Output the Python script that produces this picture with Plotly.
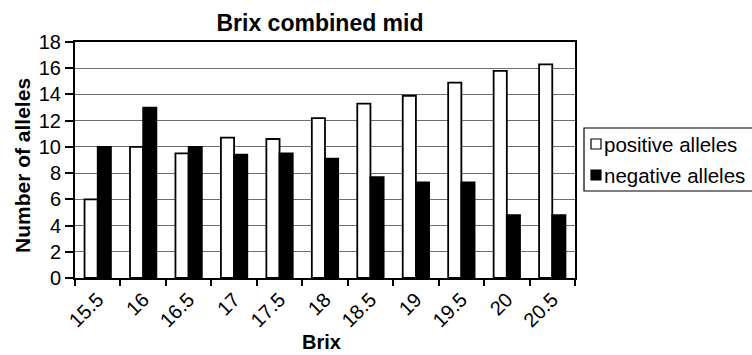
import plotly.graph_objects as go

# Brix classes and allele counts
brix = ["15.5", "16", "16.5", "17", "17.5", "18", "18.5", "19", "19.5", "20", "20.5"]
positive_alleles = [6.0, 10.0, 9.5, 10.7, 10.6, 12.2, 13.3, 13.9, 14.9, 15.8, 16.3]
negative_alleles = [10.0, 13.0, 10.0, 9.4, 9.5, 9.1, 7.7, 7.3, 7.3, 4.8, 4.8]

y_ticks = list(range(0, 19, 2))

FONT = "Liberation Sans, Arial, sans-serif"

# plot area in pixels (for placing the legend and titles)
L, R, T, B = 75, 575, 42, 278
W, H = 752, 355


def px_x(px):
    return (px - L) / (R - L)


def px_y(py):
    return (B - py) / (B - T)


fig = go.Figure()
fig.add_trace(go.Bar(
    x=brix, y=positive_alleles, name="positive alleles",
    marker=dict(color="white", line=dict(color="black", width=1.8)),
))
fig.add_trace(go.Bar(
    x=brix, y=negative_alleles, name="negative alleles",
    marker=dict(color="black", line=dict(color="black", width=1.8)),
))

# hand-built legend box
shapes = [
    dict(type="rect", xref="paper", yref="paper",
         x0=px_x(584), x1=px_x(790), y0=px_y(191), y1=px_y(128),
         line=dict(color="black", width=1.2), fillcolor="white", layer="above"),
    dict(type="rect", xref="paper", yref="paper",
         x0=px_x(591), x1=px_x(601), y0=px_y(149), y1=px_y(139),
         line=dict(color="black", width=1.2), fillcolor="white", layer="above"),
    dict(type="rect", xref="paper", yref="paper",
         x0=px_x(591), x1=px_x(601), y0=px_y(180), y1=px_y(170),
         line=dict(color="black", width=1.2), fillcolor="black", layer="above"),
]

annotations = [
    dict(text="positive alleles", xref="paper", yref="paper",
         x=px_x(602), y=px_y(144), xanchor="left", yanchor="middle",
         showarrow=False, font=dict(family=FONT, size=20.5, color="black")),
    dict(text="negative alleles", xref="paper", yref="paper",
         x=px_x(602), y=px_y(175), xanchor="left", yanchor="middle",
         showarrow=False, font=dict(family=FONT, size=20.5, color="black")),
    dict(text="<b>Brix</b>", xref="paper", yref="paper",
         x=px_x(321), y=px_y(342), xanchor="center", yanchor="middle",
         showarrow=False, font=dict(family=FONT, size=20, color="black")),
    dict(text="<b>Number of alleles</b>", xref="paper", yref="paper",
         x=px_x(22), y=px_y(166), xanchor="center", yanchor="middle",
         textangle=-90, showarrow=False,
         font=dict(family=FONT, size=21, color="black")),
]

fig.update_layout(
    width=W, height=H,
    margin=dict(l=L, r=W - R, t=T, b=H - B, autoexpand=False),
    paper_bgcolor="white", plot_bgcolor="white",
    showlegend=False,
    barmode="group", bargap=0.42, bargroupgap=0,
    font=dict(family=FONT, size=20, color="black"),
    title=dict(text="<b>Brix combined mid</b>", x=320 / W, xanchor="center",
               y=1 - 23 / H, yanchor="middle",
               font=dict(family=FONT, size=23, color="black")),
    shapes=shapes,
    annotations=annotations,
)

fig.update_xaxes(
    type="category", tickson="boundaries", ticks="outside", ticklen=6,
    tickwidth=1.5, tickcolor="black", tickangle=-45,
    tickfont=dict(family=FONT, size=20, color="black"),
    showline=True, linecolor="black", linewidth=2, mirror=True,
    showgrid=False, automargin=False,
)
fig.update_yaxes(
    range=[0, 18], tickvals=y_ticks, ticktext=[str(v) for v in y_ticks],
    ticks="outside", ticklen=8, tickwidth=1.5, tickcolor="black",
    tickfont=dict(family=FONT, size=20, color="black"),
    showline=True, linecolor="black", linewidth=2, mirror=True,
    showgrid=True, gridcolor="#6e6e6e", gridwidth=1.2,
    zeroline=False, automargin=False,
)

fig.write_html("out.html")
